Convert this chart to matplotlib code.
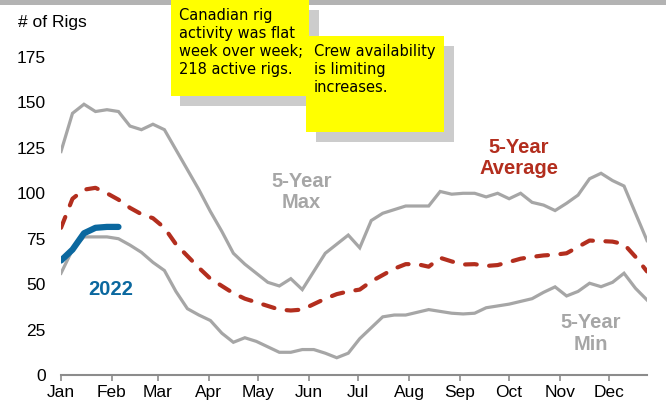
import numpy as np
import matplotlib
matplotlib.use("Agg")
import matplotlib.pyplot as plt
from matplotlib.patches import Rectangle

# weekly Canadian rig counts (week 0 = first week of January)
max_5yr = [123, 144, 149, 145, 146, 145, 137, 135, 138, 135,
           124, 113, 102, 90, 79, 67, 61,
           56, 51, 49, 53, 47, 57, 67, 72, 77, 70,
           85, 89, 91, 93, 93, 93, 101,
           99.5, 100, 100, 98, 100, 97, 100, 95, 93.5, 90.5,
           94.5, 99, 108, 111, 107, 104, 89, 74]
min_5yr = [56, 69, 76, 76, 76, 75, 71.5, 67.5, 62, 57.5,
           46, 36.5, 33, 30, 23, 18, 20.5,
           18.5, 15.5, 12.5, 12.5, 14, 14, 12, 9.5, 12, 20,
           26, 32, 33, 33, 34.5, 36, 35,
           34, 33.6, 34, 37, 38, 39, 40.5, 42, 45.5, 48.5,
           43.5, 46, 50.5, 48.6, 51, 56, 47.7, 41.3]
avg_5yr = [81, 97, 102, 103, 100, 96.5, 92, 88.5, 86.3, 81,
           72, 65.5, 59, 53, 49, 45, 42,
           40, 38, 36, 35.5, 36, 39, 42, 44.5, 46, 47,
           51.5, 55, 58.5, 61, 61, 59.6, 64.5,
           62.5, 60.8, 61, 60, 60.5, 62.2, 64, 65, 65.8, 66.2,
           67, 70.5, 74, 73.7, 73.4, 72, 65, 57]
rigs_2022 = [63, 69, 78, 81, 81.5, 81.5]

months = ["Jan", "Feb", "Mar", "Apr", "May", "Jun",
          "Jul", "Aug", "Sep", "Oct", "Nov", "Dec"]
month_start_day = [0, 31, 59, 90, 120, 151, 181, 212, 243, 273, 304, 334]
y_ticks = [0, 25, 50, 75, 100, 125, 150, 175]

GRAY = "#a6a6a6"
RED = "#b32e1e"
BLUE = "#0b689f"

W, H = 666, 405
plt.rcParams["font.family"] = ["Liberation Sans", "DejaVu Sans"]

fig = plt.figure(figsize=(W / 100, H / 100), dpi=100)


def px_rect(x0, y0, x1, y1, **kw):
    # rectangle given in pixel coords measured from the top-left corner
    r = Rectangle((x0 / W, 1 - y1 / H), (x1 - x0) / W, (y1 - y0) / H,
                  transform=fig.transFigure, **kw)
    fig.add_artist(r)
    return r


ax = fig.add_axes([61 / W, 30 / H, 586 / W, 318 / H])

weeks = np.arange(len(max_5yr))
ax.plot(weeks, max_5yr, color=GRAY, lw=2.3, solid_joinstyle="miter")
ax.plot(weeks, min_5yr, color=GRAY, lw=2.3, solid_joinstyle="miter")
ax.plot(weeks, avg_5yr, color=RED, lw=3.0, dashes=(2.8, 3.0),
        dash_capstyle="round")
ax.plot(np.arange(len(rigs_2022)), rigs_2022, color=BLUE, lw=4.5,
        solid_capstyle="round")

ax.set_xlim(0, 51)
ax.set_ylim(0, 175)
ax.set_xticks([d / 7 for d in month_start_day])
ax.set_xticklabels(months)
ax.set_yticks(y_ticks)

for side in ["top", "right", "left"]:
    ax.spines[side].set_visible(False)
ax.spines["bottom"].set_color("#8c8c8c")
ax.spines["bottom"].set_linewidth(1.5)
ax.tick_params(axis="x", length=4, width=1.2, color="#8c8c8c",
               labelsize=12.5, pad=3)
ax.tick_params(axis="y", length=0, labelsize=12.5, pad=11)

fig.text(18 / W, 1 - 22 / H, "# of Rigs", fontsize=12.5, va="center",
         ha="left")

# series labels
lab = dict(fontsize=14.5, fontweight="bold", ha="center", va="center",
           linespacing=1.15)
ax.text(20.95, 100.7, "5-Year\nMax", color=GRAY, **lab)
ax.text(39.86, 119.4, "5-Year\nAverage", color=RED, **lab)
ax.text(46.13, 22.8, "5-Year\nMin", color=GRAY, **lab)
ax.text(4.33, 47.3, "2022", color=BLUE, **lab)

# grey strip along the top edge
px_rect(0, 0, W, 4.5, facecolor="#b3b3b3", edgecolor="none")

# call-out boxes
px_rect(180, 10, 319, 106, facecolor="#cccccc", edgecolor="none", zorder=5)
px_rect(171, 0, 309, 96, facecolor="#ffff00", edgecolor="none", zorder=6)
px_rect(316, 46, 454, 142, facecolor="#cccccc", edgecolor="none", zorder=7)
px_rect(306, 36, 444, 132, facecolor="#ffff00", edgecolor="none", zorder=8)

note = dict(fontsize=10.5, family="DejaVu Sans", ha="left", va="top",
            linespacing=1.25, color="black", zorder=9)
fig.text(179 / W, 1 - 8 / H,
         "Canadian rig\nactivity was flat\nweek over week;\n218 active rigs.",
         **note)
fig.text(314 / W, 1 - 44 / H, "Crew availability\nis limiting\nincreases.",
         **note)

fig.savefig("out.png", dpi=100)
